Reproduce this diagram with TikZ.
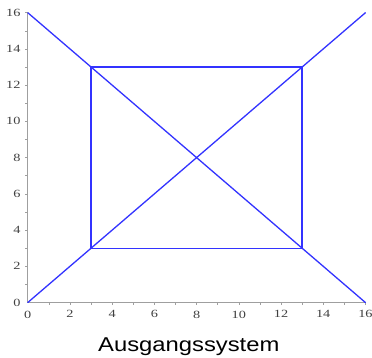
\documentclass[tikz,border=0pt]{standalone}
\usepackage{fontspec}
\setmainfont{Liberation Serif}
\newfontfamily\titlefont{Liberation Sans}
\begin{document}
\begin{tikzpicture}[x=21.1pt,y=18.11pt,
  axisline/.style={draw=gray!75,line width=1pt},
  tickmark/.style={draw=gray!75,line width=0.6pt},
  ticklabel/.style={font=\fontsize{11}{13}\selectfont,text=gray!50!black,inner sep=0pt,xscale=1.3},
  plotline/.style={draw=blue!80!white,line width=1.3pt,line join=round,line cap=round}]
\useasboundingbox (-27.8pt,-55.5pt) rectangle (344.2pt,302.5pt);
\fill[white] (-27.8pt,-55.5pt) rectangle (344.2pt,302.5pt);
% axes
\coordinate (o) at (0,0);
\coordinate (xe) at (16,0);
\coordinate (ye) at (0,16);
\draw[axisline] (xe) -- (o) -- (ye);
\foreach \i in {1,...,16}{
  \draw[tickmark] (\i,0) -- ++(0,-3pt);
  \draw[tickmark] (0,\i) -- ++(-3pt,0);
}
\foreach \i in {0,2,...,16}{
  \node[ticklabel,anchor=north] (xl\i) at ([yshift=-8pt]\i,0) {\i};
  \node[ticklabel,anchor=east] (yl\i) at ([xshift=-7pt]0,\i) {\i};
}
% geometry
\coordinate (a) at (0,0);
\coordinate (b) at (16,16);
\coordinate (c) at (0,16);
\coordinate (d) at (16,0);
\coordinate (p1) at (3,3);
\coordinate (p2) at (13,3);
\coordinate (p3) at (13,13);
\coordinate (p4) at (3,13);
\draw[plotline] (a) -- (b);
\draw[plotline] (c) -- (d);
\draw[plotline] (p1) -- (p2);
\draw[plotline] (p2) -- (p3);
\draw[plotline] (p3) -- (p4);
\draw[plotline] (p4) -- (p1);
% title
\node[anchor=base,xscale=1.19,inner sep=0pt,font=\titlefont\fontsize{20}{24}\selectfont] (title) at (161pt,-49.2pt) {Ausgangssystem};
\end{tikzpicture}
\end{document}
